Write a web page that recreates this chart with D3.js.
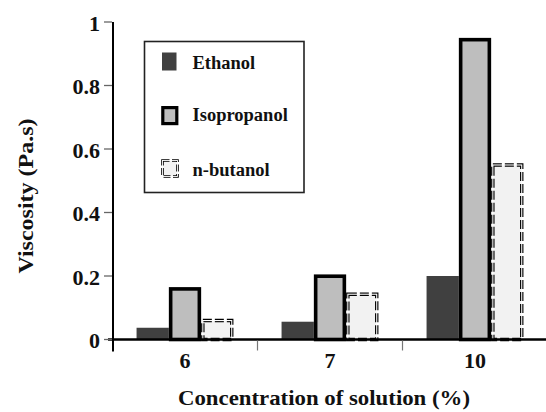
<!DOCTYPE html>
<html><head><meta charset="utf-8">
<script src="https://cdn.jsdelivr.net/npm/d3@7"></script>
</head><body style="margin:0">
<svg id="chart" width="546" height="412"></svg>
<script>
const categories = ["6", "7", "10"];
const seriesNames = ["Ethanol", "Isopropanol", "n-butanol"];
const ethanol = [0.037, 0.056, 0.2];
const isopropanol = [0.165, 0.205, 0.95];
const nbutanol = [0.065, 0.148, 0.555];
const yTicks = [0, 0.2, 0.4, 0.6, 0.8, 1];
const yTickLabels = ["0", "0.2", "0.4", "0.6", "0.8", "1"];
const xTitle = "Concentration of solution (%)";
const yTitle = "Viscosity (Pa.s)";

const FONT = "'Liberation Serif', serif";
const seriesValues = [ethanol, isopropanol, nbutanol];
const svg = d3.select("#chart");

function txt(sel) {
  return sel.attr("font-family", FONT).attr("font-weight", "bold").attr("fill", "#111");
}

const x = d3.scaleBand().domain(categories).range([112.5, 547.5]).padding(0);
const xs = d3.scaleBand().domain(seriesNames).range([0, x.bandwidth()]).paddingInner(0).paddingOuter(0.745);
const y = d3.scaleLinear().domain([0, 1]).range([339.5, 22]);

const rows = [];
categories.forEach((c, i) => seriesNames.forEach((s, j) => rows.push({c, s, v: seriesValues[j][i]})));

// bars
const g = svg.append("g");
rows.forEach(d => {
  const x0 = x(d.c) + xs(d.s), w = xs.bandwidth();
  const y0 = y(d.v), h = y(0) - y(d.v);
  if (d.s === "Ethanol") {
    g.append("rect").attr("x", x0).attr("y", y0).attr("width", w).attr("height", h).attr("fill", "#404040");
  } else if (d.s === "Isopropanol") {
    const sw = 3.6;
    g.append("rect").attr("x", x0 + sw/2).attr("y", y0 + sw/2).attr("width", w - sw).attr("height", h - sw/2)
      .attr("fill", "#bebebe").attr("stroke", "#000").attr("stroke-width", sw);
  } else {
    const sw = 3.4;
    g.append("rect").attr("x", x0 + sw/2).attr("y", y0 + sw/2).attr("width", w - sw).attr("height", h - sw/2)
      .attr("fill", "#f2f2f2").attr("stroke", "#000").attr("stroke-width", sw).attr("stroke-dasharray", "9,3");
    g.append("rect").attr("x", x0 + sw/2).attr("y", y0 + sw/2).attr("width", w - sw).attr("height", h - sw/2)
      .attr("fill", "none").attr("stroke", "#fff").attr("stroke-width", 1.1);
  }
});

// x axis
const xAxisG = svg.append("g").attr("transform", `translate(0,${y(0)})`);
xAxisG.append("line").attr("x1", 108).attr("x2", 546).attr("y1", 0).attr("y2", 0).attr("stroke", "#000").attr("stroke-width", 2.5);
const xBounds = categories.slice(1).map(c => x(c));
xAxisG.selectAll("line.tk").data(xBounds).enter().append("line").attr("class", "tk")
  .attr("x1", d => d).attr("x2", d => d).attr("y1", 1).attr("y2", 11).attr("stroke", "#777").attr("stroke-width", 1.2);
txt(xAxisG.selectAll("text").data(categories).enter().append("text"))
  .attr("x", d => x(d) + x.bandwidth()/2).attr("y", 28.5).attr("text-anchor", "middle")
  .attr("font-size", 22).text(d => d);

// y axis
const yAxisG = svg.append("g");
yAxisG.append("line").attr("x1", 113).attr("x2", 113).attr("y1", y(1)).attr("y2", y(0) + 12).attr("stroke", "#000").attr("stroke-width", 2);
yAxisG.selectAll("line.tk").data(yTicks).enter().append("line").attr("class", "tk")
  .attr("x1", 104).attr("x2", 112).attr("y1", d => y(d)).attr("y2", d => y(d)).attr("stroke", "#666").attr("stroke-width", 1.3);
txt(yAxisG.selectAll("text").data(yTicks).enter().append("text"))
  .attr("x", 100).attr("y", d => y(d) + 8.5).attr("text-anchor", "end")
  .attr("font-size", 22).text((d, i) => yTickLabels[i]);

// axis titles
txt(svg.append("text")).attr("x", 324).attr("y", 405).attr("text-anchor", "middle")
  .attr("font-size", 22).attr("textLength", 292).attr("lengthAdjust", "spacingAndGlyphs").text(xTitle);
txt(svg.append("text")).attr("transform", "translate(33,196) rotate(-90)").attr("text-anchor", "middle")
  .attr("font-size", 22).attr("textLength", 155).attr("lengthAdjust", "spacingAndGlyphs").text(yTitle);

// legend
const leg = svg.append("g");
leg.append("rect").attr("x", 144.5).attr("y", 41.5).attr("width", 159.5).attr("height", 151)
  .attr("fill", "#fff").attr("stroke", "#222").attr("stroke-width", 1.6);
const legY = [52.5, 106, 159.5];
const legTextY = [68.5, 121, 176];
seriesNames.forEach((s, i) => {
  if (i === 0) {
    leg.append("rect").attr("x", 162).attr("y", legY[i]).attr("width", 14.5).attr("height", 18).attr("fill", "#404040");
  } else if (i === 1) {
    leg.append("rect").attr("x", 162.8).attr("y", legY[i] + 1.6).attr("width", 14).attr("height", 16).attr("fill", "#bebebe")
      .attr("stroke", "#000").attr("stroke-width", 3.2);
  } else {
    leg.append("rect").attr("x", 162.5).attr("y", legY[i] + 1).attr("width", 15).attr("height", 16).attr("fill", "#f2f2f2")
      .attr("stroke", "#000").attr("stroke-width", 2.6).attr("stroke-dasharray", "7,2.5");
    leg.append("rect").attr("x", 162.5).attr("y", legY[i] + 1).attr("width", 15).attr("height", 16).attr("fill", "none")
      .attr("stroke", "#fff").attr("stroke-width", 0.9);
  }
  txt(leg.append("text")).attr("x", 192.5).attr("y", legTextY[i]).attr("font-size", 18.5).text(s);
});
</script>
</body></html>
